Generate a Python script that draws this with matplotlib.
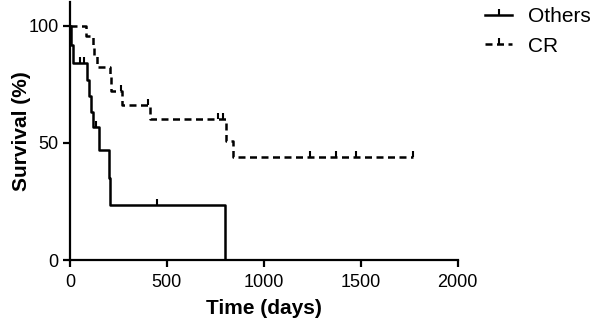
import matplotlib
matplotlib.use("Agg")
import matplotlib.pyplot as plt
from matplotlib.path import Path
from matplotlib.lines import Line2D

plt.rcParams['font.family'] = ['Liberation Sans', 'DejaVu Sans']

# Kaplan-Meier steps (days, survival %)
others_t = [0, 5, 15, 88, 98, 108, 119, 149, 201, 206, 800]
others_s = [100, 92, 84, 77, 70, 63, 57, 47, 35, 23.4, 0]
others_cens_t = [52, 72, 134, 448]
others_cens_s = [84, 84, 57, 23.4]

cr_t = [0, 82, 118, 124, 139, 205, 212, 268, 412, 805, 840, 1770]
cr_s = [100, 95.7, 91.3, 87, 82.6, 78, 72, 66.4, 60.4, 51, 43.8, 43.8]
cr_cens_t = [263, 400, 763, 789, 1240, 1370, 1475, 1770]
cr_cens_s = [72, 66.4, 60.4, 60.4, 43.8, 43.8, 43.8, 43.8]

xticks = [0, 500, 1000, 1500, 2000]
yticks = [0, 50, 100]

# censor tick pointing up from the curve
tick = Path([(0, 0), (0, 1)], [Path.MOVETO, Path.LINETO])

fig = plt.figure(figsize=(5.9, 3.22), dpi=100)
ax = fig.add_axes([0.1186, 0.1925, 0.657, 0.80])

lw = 1.8
ax.step(others_t, others_s, where='post', color='black', lw=lw, solid_capstyle='butt')
ax.plot(others_cens_t, others_cens_s, ls='none', marker=tick, ms=9, mew=1.5, color='black')

ax.step(cr_t, cr_s, where='post', color='black', lw=lw, dashes=(2.8, 1.8), dash_capstyle='butt')
ax.plot(cr_cens_t, cr_cens_s, ls='none', marker=tick, ms=9, mew=1.5, color='black')

ax.set_xlim(0, 2000)
ax.set_ylim(0, 110)
ax.set_xticks(xticks)
ax.set_yticks(yticks)
for s in ['top', 'right']:
    ax.spines[s].set_visible(False)
for s in ['left', 'bottom']:
    ax.spines[s].set_linewidth(1.6)
ax.tick_params(width=1.6, length=5, labelsize=13, pad=3)
ax.tick_params(axis='x', pad=5)

ax.set_xlabel('Time (days)', fontsize=15, fontweight='bold', labelpad=6)
ax.set_ylabel('Survival (%)', fontsize=15, fontweight='bold', labelpad=-2)

handles = [
    Line2D([0], [0], color='black', lw=lw, marker=tick, ms=9, mew=1.5),
    Line2D([0], [0], color='black', lw=lw, dashes=(2.8, 1.8), marker=tick, ms=9, mew=1.5),
]
fig.legend(handles, ['Others', 'CR'], loc='upper left', bbox_to_anchor=(0.822, 0.978),
           frameon=False, fontsize=15, handlelength=1.3, handletextpad=0.75,
           labelspacing=0.5, numpoints=1, borderpad=0, borderaxespad=0)

fig.savefig('out.png', dpi=100)
